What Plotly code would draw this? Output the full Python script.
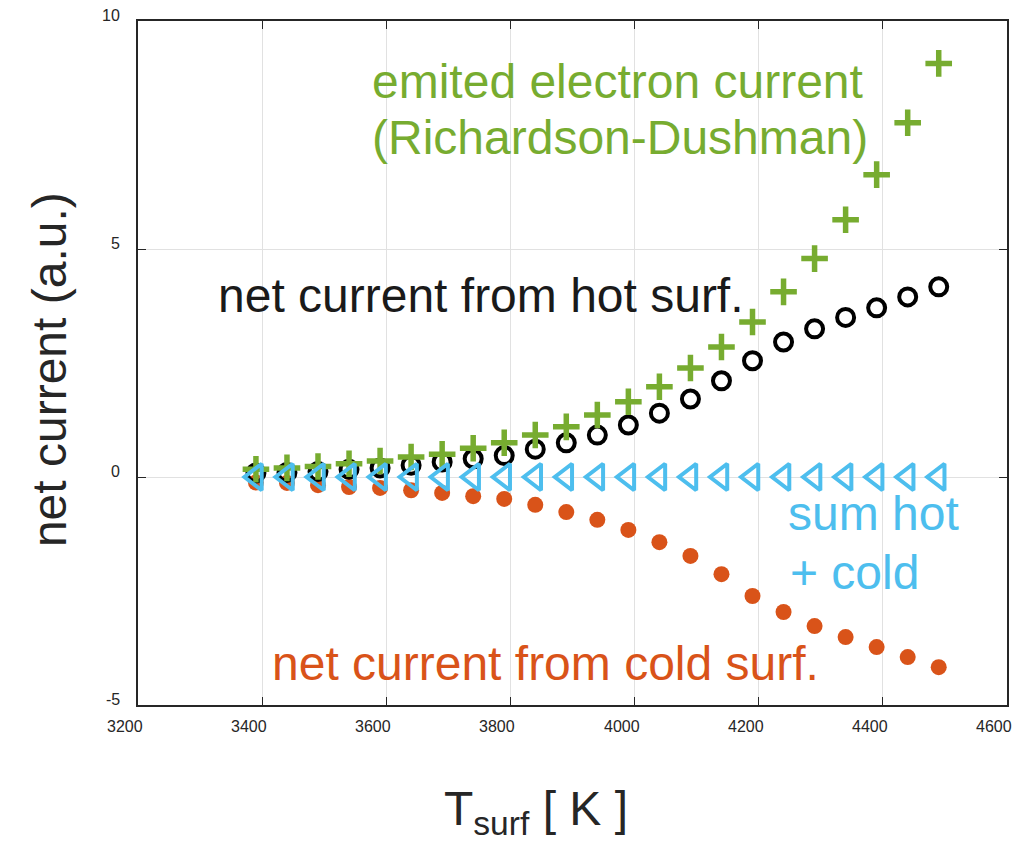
import plotly.graph_objects as go

# Surface temperature samples [K]
t_surf = [3390, 3440, 3490, 3540, 3590, 3640, 3690, 3740, 3790, 3840, 3890, 3940,
          3990, 4040, 4090, 4140, 4190, 4240, 4290, 4340, 4390, 4440, 4490]

# Emitted electron current (Richardson-Dushman), a.u.
emitted = [0.17, 0.20, 0.23, 0.29, 0.35, 0.44, 0.50, 0.63, 0.75, 0.92, 1.10, 1.36,
           1.65, 1.98, 2.39, 2.85, 3.40, 4.06, 4.79, 5.64, 6.63, 7.77, 9.07]

# Net current leaving the hot surface, a.u.
net_hot = [0.09, 0.10, 0.12, 0.17, 0.20, 0.26, 0.33, 0.40, 0.47, 0.61, 0.75, 0.92,
           1.14, 1.40, 1.71, 2.11, 2.55, 2.96, 3.25, 3.50, 3.71, 3.95, 4.17]

# Net current leaving the cold surface, a.u.
net_cold = [-0.12, -0.13, -0.18, -0.22, -0.24, -0.29, -0.35, -0.42, -0.48, -0.61, -0.77, -0.94,
            -1.16, -1.43, -1.73, -2.13, -2.61, -2.96, -3.27, -3.51, -3.73, -3.95, -4.17]

# Sum of hot and cold net currents
net_sum = [0.0, 0.0, 0.0, 0.0, 0.0, 0.0, 0.0, 0.0, 0.0, 0.0, 0.0, 0.0,
           0.0, 0.0, 0.0, 0.0, 0.0, 0.0, 0.0, 0.0, 0.0, 0.0, 0.0]

x_ticks = [3200, 3400, 3600, 3800, 4000, 4200, 4400, 4600]
y_ticks = [-5, 0, 5, 10]

GREEN = "#77AC30"
ORANGE = "#D95319"
BLUE = "#4DBEEE"
DARK = "#262626"
FONT = "Liberation Sans, Arial, sans-serif"

fig = go.Figure()

fig.add_trace(go.Scatter(
    x=t_surf, y=net_cold, mode="markers",
    marker=dict(symbol="circle", size=16, color=ORANGE, line=dict(width=0)),
    name="cold"))
fig.add_trace(go.Scatter(
    x=t_surf, y=net_hot, mode="markers",
    marker=dict(symbol="circle-open", size=17, color="black", line=dict(width=4, color="black")),
    name="hot"))
fig.add_trace(go.Scatter(
    x=t_surf, y=emitted, mode="markers",
    marker=dict(symbol="cross-thin", size=19, color=GREEN, line=dict(width=5.5, color=GREEN)),
    name="emitted"))
fig.add_trace(go.Scatter(
    x=t_surf, y=net_sum, mode="markers",
    marker=dict(symbol="triangle-left-open", size=23, color=BLUE, line=dict(width=4, color=BLUE)),
    name="sum"))

big = dict(family=FONT, size=48)
tick_font = dict(family=FONT, size=16, color=DARK)

annotations = [
    dict(x=3575, y=8.67, text="emited electron current", font=dict(big, color=GREEN)),
    dict(x=3575, y=7.44, text="(Richardson-Dushman)", font=dict(big, color=GREEN)),
    dict(x=3327, y=3.99, text="net current from hot surf.", font=dict(big, color="#1a1a1a")),
    dict(x=4246, y=-0.80, text="sum hot", font=dict(big, color=BLUE)),
    dict(x=4249, y=-2.09, text="+ cold", font=dict(big, color=BLUE)),
    dict(x=3414, y=-4.08, text="net current from cold surf.", font=dict(big, color=ORANGE)),
]
for a in annotations:
    a.update(xref="x", yref="y", xanchor="left", yanchor="middle", showarrow=False, borderpad=0)

# Tick labels, set slightly off their ticks
for v in x_ticks:
    annotations.append(dict(x=v, y=0, xref="x", yref="paper", text=str(v), showarrow=False,
                            xanchor="center", yanchor="top", yshift=-12, xshift=-13,
                            font=tick_font, borderpad=0))
for v in y_ticks:
    annotations.append(dict(x=0, y=v, xref="paper", yref="y", text=str(v), showarrow=False,
                            xanchor="right", yanchor="middle", xshift=-17, yshift=6,
                            font=tick_font, borderpad=0))

# Axis titles
annotations.append(dict(x=0.458, y=-0.156, xref="paper", yref="paper",
                        text="T<sub>surf</sub> [ K ]", showarrow=False,
                        xanchor="center", yanchor="middle", borderpad=0,
                        font=dict(family=FONT, size=48, color=DARK)))
annotations.append(dict(x=-0.101, y=0.49, xref="paper", yref="paper",
                        text="net current (a.u.)", showarrow=False, textangle=-90,
                        xanchor="center", yanchor="middle", borderpad=0,
                        font=dict(family=FONT, size=48, color=DARK)))

axis_common = dict(
    showline=True, linecolor=DARK, linewidth=1.5, mirror="ticks",
    ticks="inside", ticklen=8, tickwidth=1.2, tickcolor=DARK,
    showgrid=True, gridcolor="#e1e1e1", gridwidth=1,
    zeroline=False, showticklabels=False,
)

fig.update_layout(
    width=1030, height=842,
    margin=dict(l=138, r=23, t=21, b=137),
    paper_bgcolor="white", plot_bgcolor="white",
    showlegend=False,
    annotations=annotations,
    xaxis=dict(axis_common, range=[3200, 4600], tickvals=x_ticks),
    yaxis=dict(axis_common, range=[-5, 10], tickvals=y_ticks),
)

fig.write_html("out.html")
